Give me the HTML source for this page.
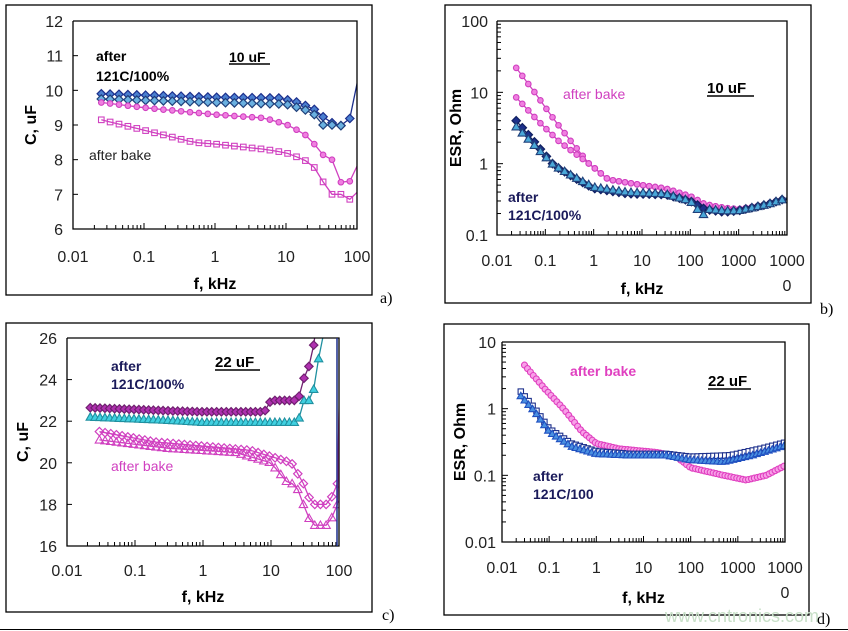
<!DOCTYPE html>
<html><head><meta charset="utf-8"><style>
html,body{margin:0;padding:0;background:#fff;width:848px;height:631px;overflow:hidden;}
svg{display:block;font-family:"Liberation Sans",sans-serif;}
</style></head><body>
<svg id="s" width="848" height="631" viewBox="0 0 848 631" xmlns="http://www.w3.org/2000/svg"></svg>
<script>
const S=document.getElementById('s');let H='';
function log10(v){return Math.log(v)/Math.LN10;}
function interp(anch,f){const lf=log10(f);
 for(let i=0;i<anch.length-1;i++){const a=log10(anch[i][0]),b=log10(anch[i+1][0]);
  if(lf>=a&&lf<=b){const t=(lf-a)/(b-a);return [anch[i][1],anch[i+1][1],t];}}
 return null;}
function val(anch,f,ylog){const r=interp(anch,f);if(!r)return null;
 if(ylog)return Math.pow(10,log10(r[0])+(log10(r[1])-log10(r[0]))*r[2]);return r[0]+(r[1]-r[0])*r[2];}
function r1(v){return Math.round(v*10)/10;}
function marker(t,x,y,st,fill,sz){const s=sz||3.2;
 if(t=='d')return `<polygon points="${r1(x)},${r1(y-s-1)} ${r1(x+s+1)},${r1(y)} ${r1(x)},${r1(y+s+1)} ${r1(x-s-1)},${r1(y)}" fill="${fill}" stroke="${st}" stroke-width="1.2"/>`;
 if(t=='c')return `<circle cx="${r1(x)}" cy="${r1(y)}" r="${s}" fill="${fill}" stroke="${st}" stroke-width="1.1"/>`;
 if(t=='s')return `<rect x="${r1(x-s)}" y="${r1(y-s)}" width="${2*s}" height="${2*s}" fill="${fill}" stroke="${st}" stroke-width="1.1"/>`;
 if(t=='t')return `<polygon points="${r1(x)},${r1(y-s-1)} ${r1(x+s+1)},${r1(y+s)} ${r1(x-s-1)},${r1(y+s)}" fill="${fill}" stroke="${st}" stroke-width="1.1"/>`;}
function panel(P){
 const {L,T,R,B,x0,x1,yl,y0,y1}=P;
 const X=f=>L+(log10(f)-log10(x0))/(log10(x1)-log10(x0))*(R-L);
 const Y=v=>yl?B-(log10(v)-log10(y0))/(log10(y1)-log10(y0))*(B-T):B-(v-y0)/(y1-y0)*(B-T);
 H+=`<rect x="${P.bx}" y="${P.by}" width="${P.bw}" height="${P.bh}" fill="none" stroke="#000" stroke-width="1.3"/>`;
 H+=`<defs><clipPath id="c${P.id}"><rect x="${L}" y="${T}" width="${R-L}" height="${B-T}"/></clipPath></defs>`;
 H+=`<g clip-path="url(#c${P.id})">`;
 for(const s of P.series){let pts=[],mk='';
  const n=s.n||8;
  for(let k=0;;k++){const f=s.a[0][0]*Math.pow(10,k/n);if(f>s.a[s.a.length-1][0]*1.0001)break;
   const v=val(s.a,f,yl);if(v==null)continue;const x=X(f),y=Y(v);pts.push(r1(x)+','+r1(y));
   if(y>=T-5&&y<=B+5)mk+=marker(s.m,x,y,s.st,s.fill,s.sz);}
  const lf=s.a[s.a.length-1];pts.push(r1(X(lf[0]))+','+r1(Y(lf[1])));
  H+=`<polyline points="${pts.join(' ')}" fill="none" stroke="${s.lc||s.st}" stroke-width="1.3"/>`+mk;}
 H+='</g>';
 H+=`<polyline points="${L},${T} ${L},${B} ${R},${B} ${R},${T} ${L},${T}" fill="none" stroke="#000" stroke-width="1.3"/>`;
 const d0=Math.round(log10(x0)),d1=Math.round(log10(x1));
 for(let d=d0;d<=d1;d++){const x=X(Math.pow(10,d));H+=`<line x1="${x}" y1="${B}" x2="${x}" y2="${B-6}" stroke="#000"/>`;
  if(d<d1)for(let m=2;m<10;m++){const xm=X(m*Math.pow(10,d));H+=`<line x1="${xm}" y1="${B}" x2="${xm}" y2="${B-4}" stroke="#000"/>`;}}
 P.xl.forEach((t,i)=>{H+=`<text x="${X(Math.pow(10,d0+i))}" y="${P.xly}" font-size="16" text-anchor="middle" fill="#222">${t}</text>`;});
 if(P.x0extra)H+=`<text x="${R}" y="${P.xly+25}" font-size="16" text-anchor="middle" fill="#222">0</text>`;
 if(yl){const e0=Math.round(log10(y0)),e1=Math.round(log10(y1));
  for(let e=e0;e<=e1;e++){const y=Y(Math.pow(10,e));H+=`<line x1="${L}" y1="${y}" x2="${L+6}" y2="${y}" stroke="#000"/>`;
   if(e<e1)for(let m=2;m<10;m++){const ym=Y(m*Math.pow(10,e));H+=`<line x1="${L}" y1="${ym}" x2="${L+4}" y2="${ym}" stroke="#000"/>`;}}
 } else {for(let v=y0;v<=y1;v+=P.ys){const y=Y(v);H+=`<line x1="${L}" y1="${y}" x2="${L+5}" y2="${y}" stroke="#000"/>`;}}
 P.yt.forEach(([v,t])=>{H+=`<text x="${L-P.ylo}" y="${Y(v)+6}" font-size="16" text-anchor="end" fill="#222">${t}</text>`;});
 H+=`<text x="${(L+R)/2}" y="${P.xty}" font-size="16" font-weight="bold" text-anchor="middle">f, kHz</text>`;
 H+=`<text transform="translate(${P.ytx},${(T+B)/2}) rotate(-90)" font-size="16" font-weight="bold" text-anchor="middle">${P.ytitle}</text>`;
 H+=P.extra;
}
const PK='#d040c0',PKF='#f080e0';
panel({id:'a',bx:6,by:5,bw:366,bh:290,L:73,T:21,R:357,B:229,x0:0.01,x1:100,yl:false,y0:6,y1:12,ys:1,
 xl:['0.01','0.1','1','10','100'],xly:262,xty:289,ytx:36,ytitle:'C, uF',ylo:10,
 yt:[[6,'6'],[7,'7'],[8,'8'],[9,'9'],[10,'10'],[11,'11'],[12,'12']],
 series:[
 {m:'d',st:'#1c2f8c',fill:'#4a7fd0',a:[[0.025,9.9],[1,9.8],[8,9.78],[15,9.65],[25,9.45],[35,9.2],[48,9.02],[65,8.97],[80,9.2],[105,10.4]]},
 {m:'d',st:'#20407a',fill:'#6ab0e0',a:[[0.025,9.75],[1,9.65],[10,9.6],[18,9.45],[25,9.3],[30,9.0],[48,9.0],[65,8.97]]},
 {m:'c',st:PK,fill:PKF,sz:2.8,a:[[0.025,9.65],[0.1,9.5],[1,9.3],[5,9.2],[10,9.02],[18,8.75],[25,8.45],[30,8.25],[38,8.0],[50,8.0],[65,7.0],[80,7.4],[105,7.9]]},
 {m:'s',st:PK,fill:'none',sz:2.8,a:[[0.025,9.15],[0.1,8.85],[0.5,8.5],[1,8.45],[5,8.3],[10,8.2],[18,8.0],[30,7.65],[38,7.0],[62,7.0],[80,6.85],[105,7.1]]}
 ],
 extra:`<text x="96" y="61" font-size="14" font-weight="bold">after</text><text x="96" y="81" font-size="14" font-weight="bold">121C/100%</text>
 <text x="229" y="62" font-size="14" font-weight="bold">10 uF</text><line x1="229" y1="64" x2="270" y2="64" stroke="#000" stroke-width="1.5"/>
 <text x="89" y="160" font-size="14" fill="#222">after bake</text>
 <text x="380" y="303" font-size="16" font-family="Liberation Serif,serif">a)</text>`});
panel({id:'b',bx:445,by:5,bw:366,bh:298,L:497,T:21,R:787,B:235,x0:0.01,x1:10000,yl:true,y0:0.1,y1:100,
 xl:['0.01','0.1','1','10','100','1000','1000'],xly:266,x0extra:true,xty:294,ytx:461,ytitle:'ESR, Ohm',ylo:9,
 yt:[[0.1,'0.1'],[1,'1'],[10,'10'],[100,'100']],
 series:[
 {m:'c',st:PK,fill:PKF,sz:2.8,a:[[0.025,22],[0.06,10],[0.15,4.2],[0.35,2],[0.8,1],[2,0.6],[10,0.5],[30,0.45],[100,0.35],[200,0.27],[500,0.24],[1000,0.23],[3000,0.26],[10000,0.33]]},
 {m:'c',st:PK,fill:PKF,sz:2.8,a:[[0.025,8.5],[0.07,4],[0.2,2],[0.8,1],[2,0.6],[10,0.5],[30,0.45],[100,0.35],[200,0.27],[500,0.24],[1000,0.23],[3000,0.26],[10000,0.33]]},
 {m:'d',st:'#102060',fill:'#1c2f8c',a:[[0.025,4],[0.06,2],[0.15,0.95],[0.5,0.58],[1,0.45],[5,0.38],[30,0.37],[100,0.3],[200,0.23],[500,0.21],[1000,0.22],[4000,0.27],[10000,0.33]]},
 {m:'t',st:'#20407a',fill:'#4aa8d8',a:[[0.025,3.3],[0.06,1.8],[0.15,0.95],[0.5,0.6],[1,0.47],[5,0.4],[30,0.38],[100,0.3],[180,0.19],[250,0.23],[500,0.22],[1000,0.22],[4000,0.27],[10000,0.33]]}
 ],
 extra:`<text x="563" y="99" font-size="14" fill="${PK}">after bake</text>
 <text x="707" y="93" font-size="15" font-weight="bold">10 uF</text><line x1="707" y1="96" x2="754" y2="96" stroke="#000" stroke-width="1.5"/>
 <text x="508" y="202" font-size="14" font-weight="bold" fill="#1a1a5a">after</text><text x="508" y="220" font-size="14" font-weight="bold" fill="#1a1a5a">121C/100%</text>
 <text x="820" y="314" font-size="16" font-family="Liberation Serif,serif">b)</text>`});
panel({id:'c',bx:6,by:323,bw:366,bh:289,L:67,T:338,R:339,B:546,x0:0.01,x1:100,yl:false,y0:16,y1:26,ys:2,
 xl:['0.01','0.1','1','10','100'],xly:576,xty:602,ytx:28,ytitle:'C, uF',ylo:10,
 yt:[[16,'16'],[18,'18'],[20,'20'],[22,'22'],[24,'24'],[26,'26']],
 series:[
 {m:'t',st:'#2090a0',fill:'#40d0e0',n:14,a:[[0.022,22.2],[0.3,22.05],[1,21.95],[25,21.95],[30,23],[40,23],[50,25],[62,26.5]]},
 {m:'d',st:'#702070',fill:'#b030b0',n:14,a:[[0.022,22.65],[0.3,22.5],[1,22.45],[8,22.45],[10,23],[25,23],[30,24],[40,25],[48,27]]},
 {m:'d',st:PK,fill:'none',n:12,a:[[0.03,21.5],[0.2,21.0],[1,20.8],[5,20.6],[10,20.3],[20,20],[30,19],[40,18],[70,18],[95,19],[108,27]]},
 {m:'t',st:PK,fill:'none',n:12,a:[[0.03,21.1],[0.3,20.7],[3,20.5],[10,20.0],[18,19],[23,19],[30,18],[40,17],[70,17],[95,18],[106,27]]}
 ],
 extra:`<line x1="337" y1="338" x2="337" y2="546" stroke="#1c2f8c" stroke-width="1.5"/>
 <text x="111" y="371" font-size="14" font-weight="bold" fill="#1a1a5a">after</text><text x="111" y="389" font-size="14" font-weight="bold" fill="#1a1a5a">121C/100%</text>
 <text x="215" y="367" font-size="15" font-weight="bold">22 uF</text><line x1="215" y1="370" x2="260" y2="370" stroke="#000" stroke-width="1.5"/>
 <text x="111" y="471" font-size="14" fill="${PK}">after bake</text>
 <text x="382" y="620" font-size="16" font-family="Liberation Serif,serif">c)</text>`});
panel({id:'d',bx:444,by:324,bw:365,bh:291,L:502,T:342,R:785,B:542,x0:0.01,x1:10000,yl:true,y0:0.01,y1:10,
 xl:['0.01','0.1','1','10','100','1000','1000'],xly:573,x0extra:true,xty:603,ytx:465,ytitle:'ESR, Ohm',ylo:6,
 yt:[[0.01,'0.01'],[0.1,'0.1'],[1,'1'],[10,'10']],
 series:[
 {m:'c',st:'#e040c0',fill:'#f8a0e8',n:16,sz:3,a:[[0.03,4.5],[0.08,2],[0.2,1],[0.5,0.45],[1,0.3],[3,0.25],[20,0.22],[50,0.19],[100,0.13],[500,0.1],[1500,0.085],[4000,0.1],[10000,0.14]]},
 {m:'s',st:'#1c2f8c',fill:'#fff',n:12,sz:2.7,a:[[0.025,1.8],[0.05,1],[0.1,0.5],[0.3,0.3],[1,0.23],[5,0.21],[30,0.21],[100,0.19],[700,0.2],[3000,0.25],[10000,0.31]]},
 {m:'t',st:'#2050c0',fill:'#4a90e0',n:12,sz:2.7,a:[[0.025,1.55],[0.05,0.9],[0.1,0.45],[0.3,0.27],[1,0.21],[5,0.2],[30,0.2],[100,0.17],[500,0.16],[2000,0.2],[10000,0.28]]}
 ],
 extra:`<text x="570" y="376" font-size="14" font-weight="bold" fill="#e040c0">after bake</text>
 <text x="708" y="386" font-size="15" font-weight="bold">22 uF</text><line x1="708" y1="389" x2="751" y2="389" stroke="#000" stroke-width="1.5"/>
 <text x="533" y="481" font-size="14" font-weight="bold" fill="#1a1a5a">after</text><text x="533" y="499" font-size="14" font-weight="bold" fill="#1a1a5a">121C/100</text>
 <text x="665" y="622" font-size="18" fill="#c8e0c8">www.cntronics.com</text>
 <text x="817" y="624" font-size="16" font-family="Liberation Serif,serif">d)</text>`});
H+=`<line x1="0" y1="629.5" x2="848" y2="629.5" stroke="#000" stroke-width="1"/>`;
S.innerHTML=H;
</script>
</body></html>
